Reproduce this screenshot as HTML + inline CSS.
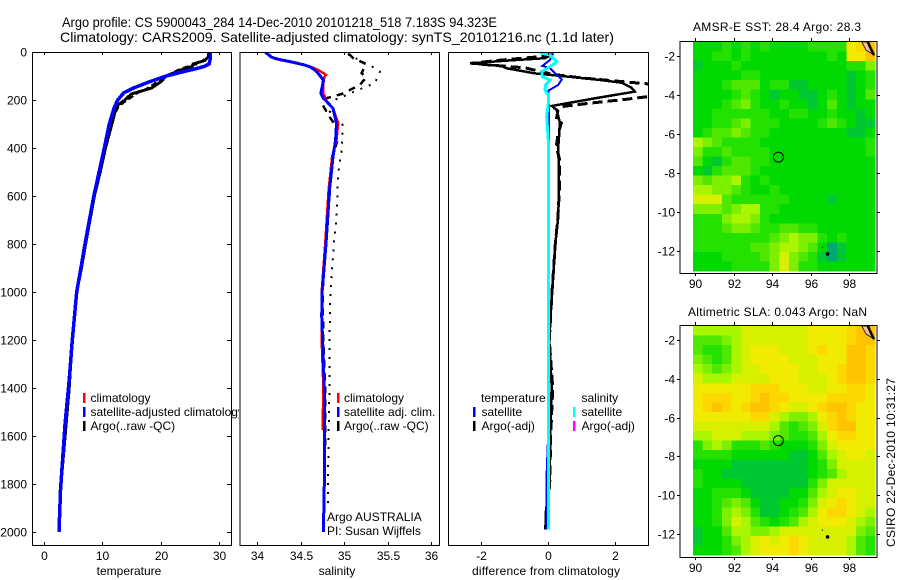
<!DOCTYPE html>
<html><head><meta charset="utf-8"><title>Argo profile</title>
<style>
html,body{margin:0;padding:0;background:#fff;width:900px;height:580px;overflow:hidden}
svg{display:block}
text{font-family:"Liberation Sans",sans-serif;fill:#000}
</style></head>
<body>
<svg id="chart" xmlns="http://www.w3.org/2000/svg" width="900" height="580" viewBox="0 0 900 580">
<defs>
<clipPath id="clip-t"><rect x="32" y="52" width="207" height="494"/></clipPath>
<clipPath id="clip-s"><rect x="240" y="52" width="200" height="494"/></clipPath>
<clipPath id="clip-d"><rect x="448" y="52" width="201" height="494"/></clipPath>
</defs>
<rect width="900" height="580" fill="#fff"/>
<text x="62" y="27" font-size="14" textLength="435" lengthAdjust="spacingAndGlyphs">Argo profile: CS 5900043_284 14-Dec-2010 20101218_518 7.183S 94.323E</text>
<text x="60" y="42" font-size="14" textLength="554" lengthAdjust="spacingAndGlyphs">Climatology: CARS2009. Satellite-adjusted climatology: synTS_20101216.nc (1.1d later)</text>
<text x="693" y="31" font-size="12" textLength="168">AMSR-E SST: 28.4  Argo: 28.3</text>
<text x="688" y="316" font-size="12" textLength="179">Altimetric SLA: 0.043  Argo: NaN</text>
<text transform="translate(895,547) rotate(-90)" font-size="12" textLength="169">CSIRO 22-Dec-2010 10:31:27</text>
<text x="129" y="575" font-size="12" text-anchor="middle">temperature</text>
<text x="337" y="575" font-size="12" text-anchor="middle">salinity</text>
<text x="546" y="575" font-size="12" text-anchor="middle" textLength="148">difference from climatology</text>
<g id="layer"></g>
</svg>
<script>
// ---- axis tick data ----
const depthTicks = [0,200,400,600,800,1000,1200,1400,1600,1800,2000];
const tempTicks = [0,10,20,30];
const salTicks = [34,34.5,35,35.5,36];
const diffTicks = [-2,0,2];
const lonTicks = [90,92,94,96,98];
const latTicks = [-2,-4,-6,-8,-10,-12];

// ---- temperature profiles ----
const climTempDepth = [0,30,50,60,70,85,100,125,150,170,200,230,300,400,500,600,800,900,1000,1200,1367,1547,1825,2000];
const climTempVal = [28.5,28.5,28.4,27.6,26.3,23.6,21,18.2,15.6,13.9,12.8,12.1,11.25,10.4,9.5,8.6,7.1,6.4,5.67,4.93,4.4,3.7,2.9,2.65];
const satTempDepth = [0,30,50,60,70,85,100,125,150,170,200,230,300,400,500,600,800,900,1000,1200,1367,1547,1825,2000];
const satTempVal = [28.5,28.5,28.3,27.5,26,23.4,21,18,15.4,13.7,12.7,12.1,11.25,10.4,9.5,8.6,7.1,6.4,5.67,4.93,4.4,3.7,2.9,2.65];
const argoTempDepth = [0,20,35,50,60,75,100,125,150,175,200,225,250,300,400,500,600,800,900,1000,1200,1400,1600,1800,2000];
const argoTempVal = [28.2,28.2,27.6,25.6,25.4,23.5,21,20,18.5,15,13.9,12.5,12.2,11.7,10.6,9.7,8.7,7.2,6.5,5.7,4.9,4.4,3.7,3,2.65];
const rawTempDepth = [0,20,35,50,60,75,100,125,150,175,200,225,250,300,400,500,600,800,900,1000,1200,1400,1600,1800,2000];
const rawTempVal = [28.3,28.1,27.2,26.4,24.6,23,20.8,19.4,17.8,15.8,14.4,12.9,12.4,11.5,10.5,9.6,8.6,7.1,6.3,5.6,4.9,4.3,3.6,2.9,2.6];

// ---- salinity profiles ----
const climSalDepth = [0,22,30,44,61,75,88,96,105,130,172,207,235,297,367,436,505,575,686,800,1000,1200,1400,1575];
const climSalVal = [34.1,34.16,34.22,34.41,34.61,34.7,34.76,34.79,34.77,34.76,34.76,34.8,34.87,34.93,34.91,34.86,34.84,34.82,34.8,34.78,34.74,34.74,34.76,34.75];
const satSalDepth = [0,22,30,36,44,53,61,75,89,103,117,137,172,193,207,235,297,367,436,505,575,686,800,1000,1100,1200,1400,1600,1800,2000];
const satSalVal = [34.09,34.165,34.24,34.32,34.43,34.53,34.6,34.66,34.7,34.73,34.76,34.75,34.73,34.76,34.8,34.87,34.91,34.9,34.87,34.85,34.83,34.81,34.79,34.745,34.74,34.75,34.77,34.77,34.77,34.76];
const rawSalDepth = [8,40,67,82,130,158,200,235,304,408,505,686,800,1000,1200,1380,1600,1880];
const rawSalVal = [35.04,35.2,35.35,35.41,35.35,35.16,34.89,34.8,34.98,34.97,34.93,34.91,34.88,34.84,34.83,34.83,34.82,34.81];
const adjSalDepth = [8,25,50,88,105,137,175,192,220,270,312,367,436,505,686,800,1000,1200,1400,1600,2000];
const adjSalVal = [35.05,35.1,35.25,35.2,35.25,35.18,34.97,34.8,34.75,34.83,34.91,34.92,34.87,34.85,34.81,34.79,34.75,34.76,34.78,34.78,34.76];

// ---- difference profiles ----
const diffArgoDepth = [8,26,36,47,58,68,89,100,114,128,148,165,193,225,242,296,394,546,686,800,1000,1200,1395,1562,1783,1922,1990];
const diffArgoVal = [0.15,-0.09,-1.24,-2.34,-1.4,-1.24,-0.39,0.41,1.41,2.21,2.5,2.61,1.41,0.11,0.26,0.36,0.31,0.33,0.31,0.22,0.12,0.04,0.11,0.07,0.05,-0.07,-0.07];
const diffRawDepth = [8,20,35,47,56,66,82,94,108,133,160,186,198,211,226,242,283,296,343,394,450,546,686,800,1000,1200,1400,1600,1800,1990];
const diffRawVal = [0.1,-0.3,-1.5,-2.3,-1.6,-0.7,-0.2,0.2,1.0,3.0,4.5,3.0,2.3,1.41,0.5,0.3,0.25,0.4,0.3,0.25,0.35,0.35,0.3,0.22,0.12,0.04,0.14,0.08,0.05,-0.08];
const diffSatTDepth = [5,33,58,68,89,114,137,161,213,367,800,1500,1750,1990];
const diffSatTVal = [0.16,0.06,-0.17,0.06,0.21,0.41,0.31,0.01,0.03,0.03,0.03,0.03,-0.04,-0.04];
const diffSatSDepth = [4,12,40,61,82,103,117,137,158,179,214,270,367,800,1500,1990];
const diffSatSVal = [-0.24,0.06,0.26,0.06,-0.19,-0.17,0.06,-0.07,-0.09,0.01,0.01,-0.04,0.01,0.01,0.01,0.02];

// ---- map grids: colour level per cell, rows north to south ----
const sstGrid = [
[2,2,2,3,2,3,2,3,2,2,2,2,3,3,3,3,8,9,10],
[2,2,3,3,2,3,2,2,2,2,2,2,2,2,3,2,8,8,10],
[1,2,2,2,3,2,2,2,2,2,2,2,2,2,2,2,3,3,5],
[2,2,2,2,2,3,3,2,2,2,2,2,2,2,2,2,1,2,3],
[2,2,2,3,4,4,4,2,3,3,1,1,2,2,2,2,1,2,3],
[2,2,2,2,3,4,3,2,1,2,2,1,1,2,3,2,1,2,4],
[2,2,2,3,4,5,3,2,2,3,2,2,1,2,4,2,1,2,2],
[2,2,3,3,3,3,3,3,2,2,3,3,2,2,3,2,2,1,2],
[2,2,3,3,4,5,3,3,3,2,2,2,2,3,4,3,2,1,1],
[2,3,4,4,5,4,3,3,2,2,2,2,2,2,2,2,1,1,2],
[6,5,4,3,3,3,3,2,2,2,2,2,2,2,2,2,2,2,3],
[5,3,3,4,3,3,3,3,2,2,2,2,2,2,2,2,2,2,3],
[4,2,1,3,4,4,3,3,2,2,2,2,2,2,2,2,2,2,2],
[2,1,3,4,4,4,3,2,2,2,2,2,2,2,2,2,2,2,2],
[5,4,5,5,6,3,2,3,2,2,2,2,2,2,2,2,2,2,2],
[6,6,5,5,4,3,2,2,3,2,2,2,2,2,2,2,2,2,2],
[7,7,7,4,3,3,3,3,3,3,2,2,2,2,1,2,2,2,2],
[5,5,5,4,5,6,6,3,3,2,2,2,2,2,2,2,2,2,2],
[3,3,3,5,6,6,5,3,2,2,2,2,2,2,2,2,2,2,2],
[3,3,3,4,5,5,4,3,3,4,4,3,3,2,2,2,2,2,2],
[3,3,3,3,3,3,3,3,4,5,6,5,5,3,2,3,2,2,2],
[3,3,3,3,3,3,4,4,5,6,6,5,4,2,0,1,2,2,2],
[2,2,2,3,3,3,3,4,5,7,5,4,3,1,0,1,2,2,2],
[2,2,2,2,3,3,3,3,5,7,5,3,3,2,2,2,2,2,2]];
const slaGrid = [
[6,6,6,6,6,7,7,7,7,7,7,7,8,8,8,8,9,10,10],
[4,4,4,5,6,7,7,7,7,7,7,7,8,8,8,8,9,10,10],
[4,3,3,4,6,7,8,8,8,7,7,7,8,9,8,8,10,10,9],
[5,4,3,4,6,7,8,8,8,8,7,7,7,8,8,8,10,10,9],
[6,5,4,5,6,7,7,8,8,8,8,7,7,8,8,9,10,10,9],
[7,6,6,6,7,7,7,7,8,8,8,7,7,7,8,9,10,10,9],
[8,8,8,8,8,8,9,9,9,8,8,8,7,7,8,8,9,9,8],
[8,9,9,9,8,8,9,10,9,9,8,8,8,8,9,9,9,9,8],
[8,9,10,9,8,9,10,10,9,8,7,7,8,9,10,10,9,8,8],
[8,8,8,8,8,8,9,9,7,6,5,5,6,8,9,10,9,8,8],
[7,7,7,7,7,7,7,7,6,4,3,4,5,7,9,10,10,8,8],
[6,6,7,7,7,6,6,6,5,4,3,3,4,6,8,9,9,8,8],
[3,5,6,5,3,3,3,4,3,2,2,2,3,5,7,8,8,8,8],
[3,3,3,3,2,2,2,2,2,2,1,1,2,4,6,7,8,8,7],
[2,2,2,2,1,1,1,1,1,1,1,1,2,3,5,7,7,7,7],
[3,2,2,1,1,1,1,1,1,1,1,1,2,3,4,6,7,7,7],
[3,2,2,2,2,1,1,1,1,1,1,1,3,5,7,7,7,7,7],
[2,2,3,3,3,2,1,1,1,1,2,2,4,6,7,8,8,7,7],
[2,2,3,4,5,4,2,1,1,2,2,3,5,7,8,9,8,7,7],
[2,2,3,5,6,5,3,1,1,2,3,4,6,8,9,9,8,7,6],
[2,2,3,5,7,6,4,3,2,3,4,6,7,8,8,8,7,6,5],
[1,2,2,4,6,6,5,5,6,7,7,7,7,7,7,7,7,5,4],
[1,2,2,3,5,6,7,8,7,8,9,8,7,7,7,7,6,4,3],
[2,2,2,3,4,6,7,8,8,8,9,8,7,7,7,7,6,4,3]];
const levelColors = ['#00aa6e','#00c832','#00da00','#23e100','#50e800','#7df000','#aaf500','#d7f000','#f0eb00','#fcd700','#ffc300'];
const landLon = [98.64,98.96,99.27,98.86];
const landLat = [-1.28,-1.28,-1.95,-1.69];
const coastLon = [98.96,99.1,99.27];
const coastLat = [-1.28,-1.6,-1.95];
const floatLon = [94.323];
const floatLat = [-7.183];
const islandLon = [96.87,96.6];
const islandLat = [-12.15,-11.8];

// ---- scales ----
const depthY = d => 52 + 0.24 * d;
const tempX = v => 43.5 + 5.85 * v;
const salX = v => 257.3 + 87 * (v - 34);
const diffX = v => 548 + 33.3 * v;
const lonX = v => 695 + 19.3 * (v - 90);
const sstLatY = v => 56 + 19.5 * (-2 - v);
const slaLatY = v => 340 + 19.4 * (-2 - v);
const gridLon0 = 89.9;
const gridDLon = 0.4965;

const NS = 'http://www.w3.org/2000/svg';
const layer = document.getElementById('layer');
function mk(tag, attrs, parent) {
  const el = document.createElementNS(NS, tag);
  for (const k in attrs) el.setAttribute(k, attrs[k]);
  (parent || layer).appendChild(el);
  return el;
}
function profile(xs, ds, xf, stroke, width, dash, clip) {
  const pts = xs.map((v, i) => xf(v).toFixed(1) + ',' + depthY(ds[i]).toFixed(1)).join(' ');
  const a = {points: pts, fill: 'none', stroke: stroke, 'stroke-width': width, 'shape-rendering': 'crispEdges', 'clip-path': 'url(#' + clip + ')'};
  if (dash) a['stroke-dasharray'] = dash;
  return mk('polyline', a);
}
function tick(x1, y1, x2, y2) {
  const t = mk('line', {x1: x1, y1: y1, x2: x2, y2: y2, stroke: '#000', 'stroke-width': 1, 'shape-rendering': 'crispEdges'});
  
  
}
function label(x, y, s, anchor) {
  const t = mk('text', {x: x, y: y, 'font-size': 12, 'text-anchor': anchor || 'middle'});
  t.textContent = s;
  
  
}
function box(x, y, w, h, name) {
  const r = mk('rect', {x: x, y: y, width: w, height: h, fill: 'none', stroke: '#000', 'stroke-width': 1, 'shape-rendering': 'crispEdges'});
  
  
}

// ---- series ----
const p1 = profile(rawTempVal, rawTempDepth, tempX, '#000', 2, '6,3', 'clip-t');


const p2 = profile(argoTempVal, argoTempDepth, tempX, '#000', 3, '', 'clip-t');


const p3 = profile(climTempVal, climTempDepth, tempX, '#f00', 2.5, '', 'clip-t');


const p4 = profile(satTempVal, satTempDepth, tempX, '#0000ff', 3.5, '', 'clip-t');



const s1 = profile(rawSalVal, rawSalDepth, salX, '#000', 2, '2,7', 'clip-s');


const s2 = profile(adjSalVal, adjSalDepth, salX, '#000', 2.5, '7,6', 'clip-s');


const s3 = profile(climSalVal, climSalDepth, salX, '#f00', 2.5, '', 'clip-s');


const s4 = profile(satSalVal, satSalDepth, salX, '#0000ff', 3, '', 'clip-s');



const d1 = profile(diffArgoVal, diffArgoDepth, diffX, '#000', 2.5, '', 'clip-d');


const d2 = profile(diffRawVal, diffRawDepth, diffX, '#000', 3, '10,5', 'clip-d');


const d3 = profile(diffSatTVal, diffSatTDepth, diffX, '#0000ff', 2, '', 'clip-d');


const d4 = profile(diffSatSVal, diffSatSDepth, diffX, '#00ffff', 3, '', 'clip-d');



// ---- legends ----
function legendRow(barX, textX, cy, color, str, clip) {
  if (color) {
    const b = mk('rect', {x: barX, y: cy - 5, width: 2.5, height: 10, fill: color, 'shape-rendering': 'crispEdges'});
    
    
  }
  const t = mk('text', {x: textX, y: cy + 4, 'font-size': 12});
  if (clip) t.setAttribute('clip-path', 'url(#' + clip + ')');
  t.textContent = str;
  
  
}
legendRow(83, 90.5, 398, '#f00', 'climatology');
legendRow(83, 90.5, 412, '#0000ff', 'satellite-adjusted climatology', 'clip-t');
legendRow(83, 90.5, 426, '#000', 'Argo(..raw -QC)');
legendRow(337, 344, 398, '#f00', 'climatology');
legendRow(337, 344, 412, '#0000ff', 'satellite adj. clim.');
legendRow(337, 344, 426, '#000', 'Argo(..raw -QC)');
legendRow(0, 481, 398, '', 'temperature');
legendRow(473, 481.5, 412, '#0000ff', 'satellite');
legendRow(473, 481.5, 426, '#000', 'Argo(-adj)');
legendRow(0, 581.5, 398, '', 'salinity');
legendRow(573, 581.5, 412, '#00ffff', 'satellite');
legendRow(573, 581.5, 426, '#ff00ff', 'Argo(-adj)');
legendRow(0, 327, 517, '', 'Argo AUSTRALIA');
legendRow(0, 327, 531, '', 'PI: Susan Wijffels');

// ---- profile axes ----
box(32.5, 52.5, 199, 493, 'temperature-axes');
box(240, 52.5, 199.5, 493, 'salinity-axes');
box(448.5, 52.5, 200, 493, 'difference-axes');
depthTicks.forEach(d => {
  const y = Math.round(depthY(d)) + 0.5;
  tick(32, y, 36, y);
  tick(227, y, 231, y);
  label(27, y + 4, String(d), 'end');
});
function xAxis(ticks, xf, top, bottom) {
  ticks.forEach(v => {
    const x = Math.round(xf(v)) + 0.5;
    tick(x, top, x, top + 3);
    tick(x, bottom - 3, x, bottom);
    label(x, 560, String(v));
  });
}
xAxis(tempTicks, tempX, 52, 545);
xAxis(salTicks, salX, 52, 545);
xAxis(diffTicks, diffX, 52, 545);

// ---- maps ----
function drawMap(grid, latY, name, top, bottom, boxTop, boxBottom) {
  const rows = grid.length;
  const rh = (bottom - top) / rows;
  grid.forEach((row, r) => {
    row.forEach((lv, c) => {
      const cell = mk('rect', {
        x: lonX(gridLon0 + c * gridDLon).toFixed(2),
        y: (top + r * rh).toFixed(2),
        width: (19.3 * gridDLon + 0.4).toFixed(2),
        height: (rh + 0.4).toFixed(2),
        fill: levelColors[lv],
        'shape-rendering': 'crispEdges'
      });
      
      
    });
  });
  const land = mk('polygon', {points: landLon.map((v, i) => lonX(v).toFixed(1) + ',' + latY(landLat[i]).toFixed(1)).join(' '), fill: '#f5bf96', stroke: '#000', 'stroke-width': 0.8});
  
  
  const coast = mk('polyline', {points: coastLon.map((v, i) => lonX(v).toFixed(1) + ',' + latY(coastLat[i]).toFixed(1)).join(' '), fill: 'none', stroke: '#000', 'stroke-width': 2.5});
  
  
  islandLon.forEach((v, i) => {
    const dot = mk('circle', {cx: lonX(v).toFixed(1), cy: latY(islandLat[i]).toFixed(1), r: i === 0 ? 1.8 : 0.6, fill: '#000'});
    
    
  });
  const circ = mk('circle', {cx: lonX(floatLon[0]).toFixed(1), cy: latY(floatLat[0]).toFixed(1), r: 5, fill: 'none', stroke: '#000', 'stroke-width': 1});
  
  
  box(680, boxTop + 0.5, 197, boxBottom - boxTop, name + '-axes');
  lonTicks.forEach(v => {
    const x = Math.round(lonX(v)) + 0.5;
    tick(x, boxTop - 3, x, boxTop);
    tick(x, boxBottom, x, boxBottom + 3);
    label(x, boxBottom + 15, String(v));
  });
  latTicks.forEach(v => {
    const y = Math.round(latY(v)) + 0.5;
    tick(677, y, 680, y);
    tick(877, y, 880, y);
    label(675, y + 4, String(v), 'end');
  });
}
drawMap(sstGrid, sstLatY, 'sst-map', 42, 271, 41, 273);
drawMap(slaGrid, slaLatY, 'sla-map', 326, 555, 325, 557);
</script>
</body></html>
